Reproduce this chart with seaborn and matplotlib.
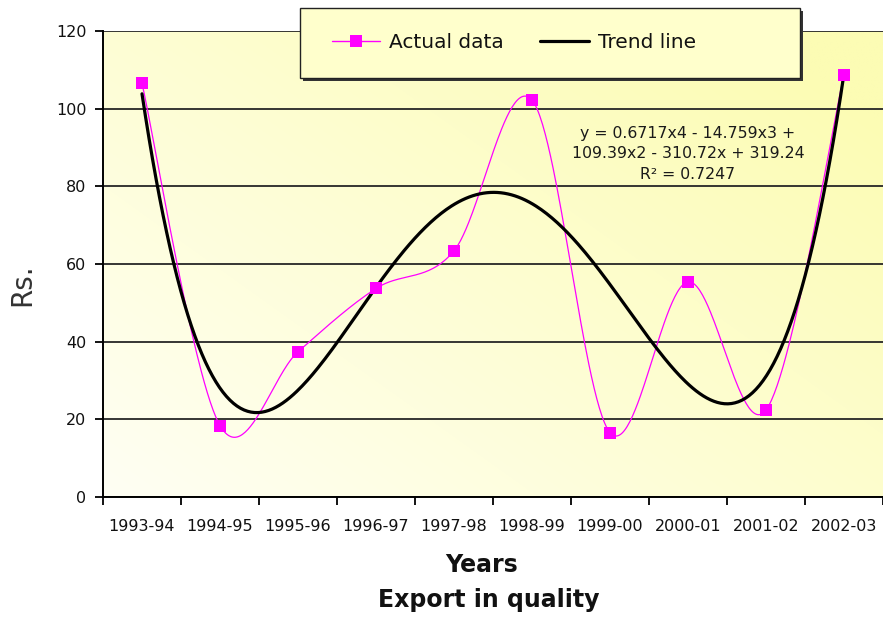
import numpy as np
import pandas as pd
import seaborn as sns
import matplotlib
matplotlib.use("Agg")
import matplotlib.pyplot as plt
from matplotlib.lines import Line2D
from matplotlib.patches import Rectangle

# ---- data -------------------------------------------------------------
years = ["1993-94", "1994-95", "1995-96", "1996-97", "1997-98",
         "1998-99", "1999-00", "2000-01", "2001-02", "2002-03"]
actual = [106.5, 18.4, 37.4, 53.7, 63.4, 102.2, 16.6, 55.4, 22.4, 108.7]
# 4th-order polynomial trend (x = 1 .. 10), highest power first
trend_coef = [0.6717, -14.759, 109.39, -310.72, 319.24]
r_squared = 0.7247
y_ticks = [0, 20, 40, 60, 80, 100, 120]

sns.set_theme(style="white")
plt.rcParams["font.family"] = ["DejaVu Sans"]

x = np.arange(1, len(years) + 1, dtype=float)
y = np.asarray(actual, dtype=float)


def smooth_curve(xs, ys, n=60):
    """Bezier smoothing through every point (Catmull-Rom style control points)."""
    px = np.concatenate([[xs[0]], xs, [xs[-1]]])
    py = np.concatenate([[ys[0]], ys, [ys[-1]]])
    out_x, out_y = [], []
    t = np.linspace(0, 1, n)
    for i in range(1, len(px) - 2):
        p0 = np.array([px[i], py[i]])
        p3 = np.array([px[i + 1], py[i + 1]])
        c1 = p0 + (np.array([px[i + 1], py[i + 1]]) - np.array([px[i - 1], py[i - 1]])) / 6
        c2 = p3 - (np.array([px[i + 2], py[i + 2]]) - np.array([px[i], py[i]])) / 6
        b = ((1 - t) ** 3)[:, None] * p0 + (3 * (1 - t) ** 2 * t)[:, None] * c1 \
            + (3 * (1 - t) * t ** 2)[:, None] * c2 + (t ** 3)[:, None] * p3
        out_x.extend(b[:, 0])
        out_y.extend(b[:, 1])
    return np.array(out_x), np.array(out_y)


sx, sy = smooth_curve(x, y)
smooth_df = pd.DataFrame({"x": sx, "y": sy})
tx = np.linspace(1, len(years), 400)
trend_df = pd.DataFrame({"x": tx, "y": np.polyval(trend_coef, tx)})
point_df = pd.DataFrame({"x": x, "y": y})

# ---- figure -----------------------------------------------------------
fig = plt.figure(figsize=(8.83, 6.33), dpi=100)
fig.patch.set_facecolor("white")
ax = fig.add_axes([103 / 883, 1 - 497 / 633, 1 - 103 / 883, (497 - 31) / 633])

# pale-to-yellow gradient plot area
gx, gy = np.meshgrid(np.linspace(0, 1, 300), np.linspace(0, 1, 200))
g = np.clip(0.6 * gx + 0.5 * gy, 0, 1)[..., None]
c0 = np.array([255, 255, 244]) / 255
c1 = np.array([252, 252, 180]) / 255
grad = c0 * (1 - g) + c1 * g
ax.imshow(grad, extent=[0, 1, 0, 1], transform=ax.transAxes, origin="lower",
          aspect="auto", zorder=-2, interpolation="bilinear")

sns.lineplot(data=smooth_df, x="x", y="y", sort=False, estimator=None,
             color="#FF00FF", linewidth=0.9, ax=ax, zorder=3)
sns.lineplot(data=trend_df, x="x", y="y", sort=False, estimator=None,
             color="black", linewidth=2.3, ax=ax, zorder=4)
sns.scatterplot(data=point_df, x="x", y="y", marker="s", s=80,
                color="#FF00FF", edgecolor="#FF00FF", linewidth=0, ax=ax, zorder=5)

ax.set_xlim(0.5, len(years) + 0.5)
ax.set_ylim(0, 120)
ax.set_yticks(y_ticks)
ax.set_yticklabels([str(v) for v in y_ticks])
ax.set_xticks(np.arange(0.5, len(years) + 1, 1.0))
ax.set_xticklabels([])
ax.set_xticks(x, minor=True)
ax.set_xticklabels(years, minor=True)
ax.tick_params(axis="x", which="major", direction="out", length=6, width=1.3,
               color="black", bottom=True)
ax.tick_params(axis="x", which="minor", length=0, pad=16, labelsize=11.5,
               labelcolor="#111111")
ax.tick_params(axis="y", direction="out", length=6, width=1.3, color="black",
               left=True, pad=6, labelsize=11.5, labelcolor="#111111")
ax.yaxis.grid(True, color="#262626", linewidth=1.3)
ax.xaxis.grid(False)
ax.set_axisbelow(True)
for side in ("top", "right"):
    ax.spines[side].set_visible(False)
for side in ("left", "bottom"):
    ax.spines[side].set_color("black")
    ax.spines[side].set_linewidth(1.4)
ax.set_xlabel("")
ax.set_ylabel("Rs.", fontsize=20, color="#333333")
ax.yaxis.set_label_coords(-0.086, 0.455)

# trend equation
eq = ("y = {:.4f}x4 - {:.3f}x3 +\n{:.2f}x2 - {:.2f}x + {:.2f}\nR\u00b2 = {:.4f}"
      .format(trend_coef[0], -trend_coef[1], trend_coef[2], -trend_coef[3],
              trend_coef[4], r_squared))
fig.text(688 / 883, 1 - 154 / 633, eq, ha="center", va="center", fontsize=11.3,
         linespacing=1.42, color="#1a1a1a")

# legend box with drop shadow
lx0, ly0, lx1, ly1 = 300, 8, 800, 78
fig.patches.append(Rectangle((lx0 / 883 + 3 / 883, 1 - ly1 / 633 - 3 / 633),
                             (lx1 - lx0) / 883, (ly1 - ly0) / 633,
                             transform=fig.transFigure, facecolor="#333333",
                             edgecolor="none", zorder=9))
fig.patches.append(Rectangle((lx0 / 883, 1 - ly1 / 633), (lx1 - lx0) / 883,
                             (ly1 - ly0) / 633, transform=fig.transFigure,
                             facecolor="#FFFFCC", edgecolor="#222222",
                             linewidth=1.0, zorder=10))
handles = [Line2D([], [], color="#FF00FF", linewidth=1.0, marker="s",
                  markersize=8, markerfacecolor="#FF00FF", markeredgewidth=0),
           Line2D([], [], color="black", linewidth=2.3)]
leg = fig.legend(handles, ["Actual data", "Trend line"], ncol=2,
                 loc="center left", bbox_to_anchor=(332 / 883, 1 - 43 / 633),
                 frameon=False, fontsize=14.5, handlelength=2.4, handletextpad=0.45,
                 columnspacing=1.8, borderaxespad=0, borderpad=0)
leg.set_zorder(11)
for t in leg.get_texts():
    t.set_color("#111111")

fig.text(482 / 883, 1 - 565 / 633, "Years", ha="center", va="center",
         fontsize=17, fontweight="bold", color="#111111")
fig.text(489 / 883, 1 - 600 / 633, "Export in quality", ha="center", va="center",
         fontsize=17, fontweight="bold", color="#111111")

fig.savefig("out.png", dpi=100)
